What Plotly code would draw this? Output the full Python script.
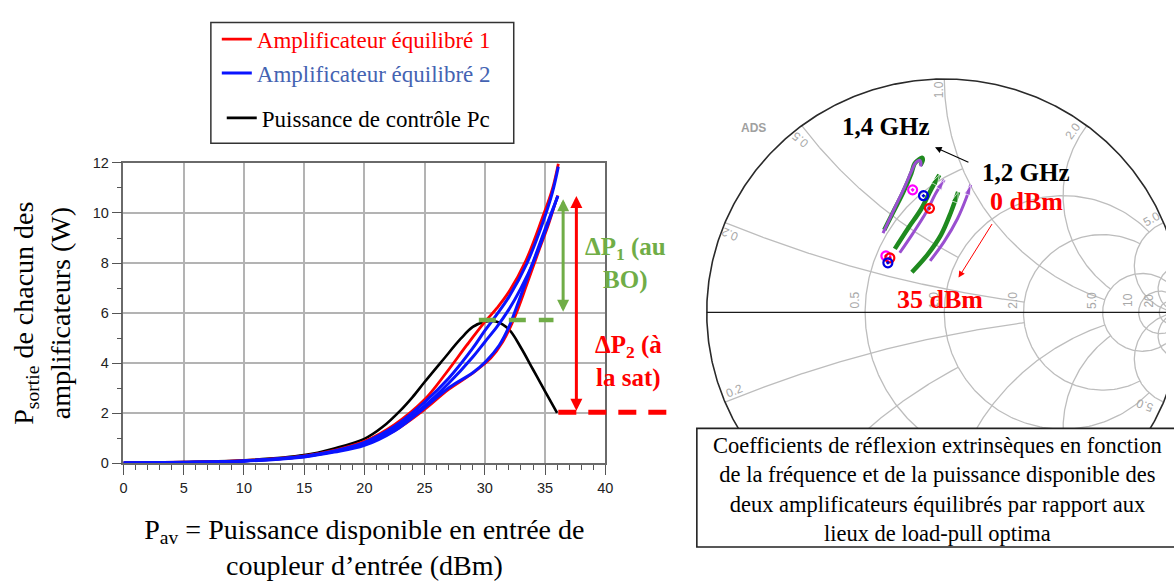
import numpy as np
import plotly.graph_objects as go

FIG_W, FIG_H = 1174, 581
SERIF = "Liberation Serif, Times New Roman, serif"
SANS = "Liberation Sans, Arial, sans-serif"

# ---------------- left panel: output power of each balanced amplifier ----------------
X_MIN, X_MAX = 0, 40
Y_MIN, Y_MAX = 0, 12

pav_pc = [0, 5, 10, 15, 17.5, 20, 21.5, 23, 24, 25, 26.5, 28, 29, 30, 31, 32, 33, 34, 35, 36]
pc_w = [0.02, 0.05, 0.12, 0.33, 0.6, 0.98, 1.45, 2.12, 2.65, 3.25, 4.12, 4.98, 5.45, 5.66, 5.66,
        5.35, 4.62, 3.75, 2.88, 2.02]

pav_amp1_a = [0, 5, 10, 15, 17.5, 20, 22.5, 25, 26.8, 28.5, 30, 31, 32, 33.4, 34.75, 35.6, 36.1]
pout_amp1_a = [0.02, 0.05, 0.11, 0.3, 0.52, 0.88, 1.55, 2.55, 3.62, 4.72, 5.65, 6.2, 6.85, 8.09,
               9.77, 10.94, 11.97]
pav_amp1_b = [0, 5, 10, 15, 17.5, 20, 22.5, 25, 27, 29, 30.5, 31.5, 32.5, 33.5, 34.5, 35.3, 36.05]
pout_amp1_b = [0.02, 0.04, 0.1, 0.27, 0.47, 0.75, 1.3, 2.15, 2.95, 3.6, 4.2, 4.85, 5.85, 7.15,
               8.5, 9.55, 10.7]

pav_amp2_a = [0, 5, 10, 15, 17.5, 20, 22.5, 25, 27, 29, 30, 31, 32, 33.5, 34.8, 35.6, 36.1]
pout_amp2_a = [0.02, 0.05, 0.1, 0.29, 0.5, 0.84, 1.48, 2.45, 3.4, 4.6, 5.3, 5.95, 6.65, 8.0,
               9.6, 10.8, 11.85]
pav_amp2_b = [0, 5, 10, 15, 17.5, 20, 22.5, 25, 27, 29, 30, 31, 32, 33, 34, 35, 36.05]
pout_amp2_b = [0.02, 0.04, 0.1, 0.28, 0.48, 0.8, 1.4, 2.3, 3.2, 4.25, 4.85, 5.45, 6.15, 7.0,
               8.0, 9.25, 10.68]
pav_amp2_c = [0, 5, 10, 15, 17.5, 20, 22.5, 24.3, 27.1, 29, 30.1, 31.2, 32, 32.8, 33.9, 35, 36.07]
pout_amp2_c = [0.02, 0.04, 0.09, 0.26, 0.45, 0.72, 1.3, 1.95, 3.05, 3.62, 4.08, 4.72, 5.45, 6.45,
               7.9, 9.35, 10.68]

# power-spread markers
dp1_pav, dp1_low, dp1_high = 36.5, 6.0, 10.55
dp2_pav, dp2_low, dp2_high = 37.6, 2.04, 10.68
bo_level, bo_from, bo_to = 5.73, 29.5, 35.7
sat_level, sat_from, sat_to = 2.04, 36.1, 45.9

# ---------------- right panel: Smith chart ----------------
smith_r_values = [0.5, 1.0, 2.0, 5.0, 10.0, 20.0]
smith_r_xlimit = [1.0, 5.0, 5.0, None, None, None]
smith_x_values = [0.2, 0.5, 1.0, 2.0, 5.0, 10.0, 20.0]
smith_x_rlimit = [2.0, 1.0, 5.0, 5.0, None, None, None]

# extrinsic reflection coefficients (Re, Im) for three frequencies
green1_re = [-0.2529, -0.2154, -0.1738, -0.1388, -0.125, -0.1113, -0.0946, -0.0904, -0.1]
green1_im = [0.3529, 0.4292, 0.5125, 0.5958, 0.6375, 0.6513, 0.6625, 0.6542, 0.6304]
purple1_re = [-0.258, -0.210, -0.168, -0.136, -0.120, -0.104, -0.098, -0.100]
purple1_im = [0.340, 0.445, 0.535, 0.610, 0.642, 0.652, 0.640, 0.625]
green2_re = [-0.2083, -0.1529, -0.0971, -0.0554, -0.0208]
green2_im = [0.2721, 0.3596, 0.4429, 0.5263, 0.5888]
purple2_re = [-0.1875, -0.1321, -0.0763, -0.0346, 0.0]
purple2_im = [0.2554, 0.3388, 0.4292, 0.5125, 0.5679]
green3_re = [-0.1363, -0.0696, -0.0138, 0.0279, 0.0583]
green3_im = [0.1721, 0.2488, 0.3321, 0.4292, 0.5154]
purple3_re = [-0.0596, 0.0, 0.0554, 0.0904, 0.1113]
purple3_im = [0.2208, 0.3042, 0.4013, 0.4846, 0.5471]

# optimum load-pull points
opt_magenta_re, opt_magenta_im = [-0.1333, -0.2458], [0.525, 0.2417]
opt_blue_re, opt_blue_im = [-0.0875, -0.2375], [0.50, 0.2125]
opt_red_re, opt_red_im = [-0.0625, -0.2292], [0.4458, 0.2333]

G_RE_MIN, G_RE_MAX = -1.04167, 0.93333
G_IM_MIN, G_IM_MAX = -1.11667, 1.30417

BLUE = "#0a14ff"
RED = "#ff0000"
GREEN_TXT = "#70ad47"
GREEN = "#1f8a1f"
PURPLE = "#9a4fd0"
GRID = "#bdbdbd"

fig = go.Figure()

# --- left panel curves ---
fig.add_trace(go.Scatter(x=pav_pc, y=pc_w, mode="lines", line=dict(color="black", width=2.6, shape="spline"),
                         name="Puissance de contrôle Pc", legend="legend3"))
fig.add_trace(go.Scatter(x=pav_amp1_b, y=pout_amp1_b, mode="lines", line=dict(color=RED, width=2.5, shape="spline"),
                         showlegend=False))
fig.add_trace(go.Scatter(x=pav_amp1_a, y=pout_amp1_a, mode="lines", line=dict(color=RED, width=2.8, shape="spline"),
                         name="Amplificateur équilibré 1", legend="legend"))
for px_, py_ in [(pav_amp2_c, pout_amp2_c), (pav_amp2_b, pout_amp2_b)]:
    fig.add_trace(go.Scatter(x=px_, y=py_, mode="lines", line=dict(color=BLUE, width=3, shape="spline"),
                             showlegend=False))
fig.add_trace(go.Scatter(x=pav_amp2_a, y=pout_amp2_a, mode="lines", line=dict(color=BLUE, width=3, shape="spline"),
                         name="Amplificateur équilibré 2", legend="legend2"))


# --- Smith chart grid ---
def gamma_of(z):
    return (z - 1.0) / (z + 1.0)


grid_re, grid_im = [], []


def add_path(g):
    grid_re.extend(g.real.tolist())
    grid_re.append(None)
    grid_im.extend(g.imag.tolist())
    grid_im.append(None)


for r, xlim in zip(smith_r_values, smith_r_xlimit):
    if xlim is None:
        phi = np.linspace(0, 2 * np.pi, 361)
        add_path(r / (1 + r) + np.exp(1j * phi) / (1 + r))
    else:
        a = np.linspace(-np.arctan(xlim), np.arctan(xlim), 300)
        add_path(gamma_of(r + 1j * np.tan(a)))
for xv, rlim in zip(smith_x_values, smith_x_rlimit):
    bmax = np.arctan(rlim) if rlim is not None else np.pi / 2 - 1e-4
    b = np.linspace(0, bmax, 300)
    for s in (1, -1):
        add_path(gamma_of(np.tan(b) + 1j * s * xv))

fig.add_trace(go.Scatter(x=grid_re, y=grid_im, xaxis="x2", yaxis="y2", mode="lines",
                         line=dict(color=GRID, width=1.3), showlegend=False, hoverinfo="skip"))
phi = np.linspace(0, 2 * np.pi, 721)
fig.add_trace(go.Scatter(x=np.cos(phi), y=np.sin(phi), xaxis="x2", yaxis="y2", mode="lines",
                         line=dict(color="#2a2a2a", width=1.6), showlegend=False, hoverinfo="skip"))
fig.add_trace(go.Scatter(x=[-1, 1], y=[0, 0], xaxis="x2", yaxis="y2", mode="lines",
                         line=dict(color="#1a1a1a", width=1.3), showlegend=False, hoverinfo="skip"))


# --- reflection coefficient trajectories ---
def traj(re, im, color, width, arrow):
    n = len(re)
    sizes = [0] * (n - 1) + [11 if arrow else 0]
    fig.add_trace(go.Scatter(x=re, y=im, xaxis="x2", yaxis="y2", mode="lines+markers",
                             line=dict(color=color, width=width, shape="spline"),
                             marker=dict(symbol="arrow", size=sizes, color=color, angleref="previous"),
                             showlegend=False))


traj(green1_re, green1_im, GREEN, 4.5, False)
traj(purple1_re, purple1_im, PURPLE, 3, False)
traj(green2_re, green2_im, GREEN, 4.5, True)
traj(purple2_re, purple2_im, PURPLE, 3, True)
traj(green3_re, green3_im, GREEN, 4.5, True)
traj(purple3_re, purple3_im, PURPLE, 3, True)

for re, im, col in [(opt_magenta_re, opt_magenta_im, "#ff00ff"), (opt_red_re, opt_red_im, "#ff0000"),
                    (opt_blue_re, opt_blue_im, "#0000e0")]:
    fig.add_trace(go.Scatter(x=re, y=im, xaxis="x2", yaxis="y2", mode="markers",
                             marker=dict(symbol="circle-open-dot", size=9, color=col, line=dict(width=2.2)),
                             showlegend=False))

# ---------------- annotations ----------------
ann = []
# double arrows for the power spread
for xv, lo, hi, col in [(dp1_pav, dp1_low, dp1_high, GREEN_TXT), (dp2_pav, dp2_low, dp2_high, RED)]:
    ann.append(dict(x=xv, y=hi, ax=xv, ay=lo, xref="x", yref="y", axref="x", ayref="y", text="",
                    showarrow=True, arrowhead=2, startarrowhead=2, arrowside="end+start",
                    arrowsize=0.8, startarrowsize=0.8, arrowwidth=3, arrowcolor=col))

ann.append(dict(xref="paper", yref="paper", x=628 / FIG_W, y=1 - 263 / FIG_H, showarrow=False,
                xanchor="center", yanchor="middle",
                text="<b>ΔP<sub>1</sub> (au<br>BO)</b>", font=dict(family=SERIF, size=25, color=GREEN_TXT)))
ann.append(dict(xref="paper", yref="paper", x=631 / FIG_W, y=1 - 364 / FIG_H, showarrow=False,
                xanchor="center", yanchor="middle",
                text="<b>ΔP<sub>2</sub> (à<br>la sat)</b>", font=dict(family=SERIF, size=25, color=RED)))

# Smith chart grid labels
lab_font = dict(family=SANS, size=12, color="#a8a8a8")
for r in smith_r_values:
    txt = f"{r:.1f}" if r < 10 else f"{int(r)}"
    ann.append(dict(x=(r - 1) / (r + 1), y=0, xref="x2", yref="y2", text=txt, showarrow=False,
                    xanchor="center", yanchor="middle",
                    textangle=-90, xshift=-10, yshift=12, font=lab_font))

x_labels = [  # value, label text, angle, xshift, yshift
    (0.2, "0.2", -157, 5, -12), (0.5, "0.5", -140, -2, -14), (1.0, "1.0", -90, -5, -11),
    (2.0, "2.0", -55, -14, -5), (5.0, "5.0", -30, -12, 4), (10.0, "10", -15, -18, 5),
    (20.0, "20", -8, -17, 7), (-0.2, "0.2", -22, 9, 11), (-5.0, "5.0", -160, -19, -3),
    (-10.0, "10", -170, -18, -6), (-20.0, "20", -175, -17, -6),
]
for xv, txt, ang, dx, dy in x_labels:
    g = gamma_of(1j * xv)
    ann.append(dict(x=g.real, y=g.imag, xref="x2", yref="y2", text=txt, showarrow=False,
                    xanchor="center", yanchor="middle",
                    textangle=ang, xshift=dx, yshift=dy, font=lab_font))

ann.append(dict(x=-0.804, y=0.792, xref="x2", yref="y2", text="<b>ADS</b>", showarrow=False,
                xanchor="center", yanchor="middle",
                font=dict(family=SANS, size=12, color="#a0a0a0")))

bold_black = dict(family=SERIF, size=25, color="black")
bold_red = dict(family=SERIF, size=26, color=RED)
for gx, gy, txt, fnt in [(-0.247, 0.797, "<b>1,4 GHz</b>", bold_black),
                         (0.346, 0.600, "<b>1,2 GHz</b>", bold_black),
                         (0.346, 0.474, "<b>0 dBm</b>", bold_red),
                         (-0.0167, 0.054, "<b>35 dBm</b>", bold_red)]:
    ann.append(dict(x=gx, y=gy, xref="x2", yref="y2", text=txt, showarrow=False,
                    xanchor="center", yanchor="middle", font=fnt))
ann.append(dict(x=-0.039, y=0.707, ax=0.108, ay=0.640, xref="x2", yref="y2", axref="x2", ayref="y2", text="",
                showarrow=True, arrowhead=2, arrowsize=1.2, arrowwidth=1.1, arrowcolor="black"))
ann.append(dict(x=0.060, y=0.149, ax=0.205, ay=0.385, xref="x2", yref="y2", axref="x2", ayref="y2", text="",
                showarrow=True, arrowhead=2, arrowsize=1.3, arrowwidth=1, arrowcolor=RED))

ann.append(dict(xref="paper", yref="paper", x=943 / FIG_W, y=1 - 495 / FIG_H, showarrow=False,
                xanchor="center", yanchor="middle",
                text="Coefficients de réflexion extrinsèques en fonction<br>de la fréquence et de la puissance "
                     "disponible des<br>deux amplificateurs équilibrés par rapport aux<br>lieux de load-pull optima",
                font=dict(family=SERIF, size=22.5, color="black")))

# ---------------- shapes ----------------
shapes = [
    dict(type="rect", xref="paper", yref="paper", x0=209 / FIG_W, x1=515 / FIG_W, y0=1 - 139 / FIG_H,
         y1=1 - 15 / FIG_H, line=dict(color="#333333", width=1.5)),
    dict(type="line", xref="x", yref="y", x0=bo_from, x1=bo_to, y0=bo_level, y1=bo_level,
         line=dict(color=GREEN_TXT, width=4.5, dash="17px,13px")),
    dict(type="line", xref="x domain", yref="y",
         x0=(sat_from - X_MIN) / (X_MAX - X_MIN), x1=(sat_to - X_MIN) / (X_MAX - X_MIN),
         y0=sat_level, y1=sat_level, line=dict(color=RED, width=5, dash="18px,12px")),
    dict(type="rect", xref="paper", yref="paper", x0=700 / FIG_W, x1=1.02, y0=1 - 554.3 / FIG_H,
         y1=1 - 432.3 / FIG_H, line=dict(color="#222222", width=1.6), fillcolor="white", layer="above"),
]

axis_common = dict(showgrid=True, gridcolor="#b3b3b3", gridwidth=1.5, showline=True, linecolor="#6a6a6a",
                   linewidth=1.5, mirror=True, zeroline=False, ticks="outside", ticklen=10, tickwidth=1.3,
                   tickcolor="#555555", tickfont=dict(family=SANS, size=14.5, color="#222222"))

legend_common = dict(xanchor="left", yanchor="middle", bgcolor="rgba(0,0,0,0)", borderwidth=0)

fig.update_layout(
    width=FIG_W, height=FIG_H, margin=dict(l=0, r=0, t=0, b=0),
    paper_bgcolor="white", plot_bgcolor="white",
    font=dict(family=SERIF, color="black"),
    xaxis=dict(domain=[120.7 / FIG_W, 607.5 / FIG_W], range=[X_MIN, X_MAX], dtick=5, tick0=0,
               minor=dict(dtick=1, ticks="outside", ticklen=5, tickwidth=1, tickcolor="#555555", showgrid=False),
               title=dict(text="P<sub>av</sub> = Puissance disponible en entrée de<br>coupleur d’entrée (dBm)",
                          font=dict(family=SERIF, size=28, color="black"), standoff=26),
               **axis_common),
    yaxis=dict(domain=[1 - 468.3 / FIG_H, 1 - 159.3 / FIG_H], range=[Y_MIN, Y_MAX], dtick=2, tick0=0,
               minor=dict(dtick=1, ticks="outside", ticklen=5, tickwidth=1, tickcolor="#555555", showgrid=False),
               title=dict(text="P<sub>sortie</sub> de chacun des<br>amplificateurs (W)",
                          font=dict(family=SERIF, size=28, color="black"), standoff=14),
               **axis_common),
    xaxis2=dict(domain=[700 / FIG_W, 1], range=[G_RE_MIN, G_RE_MAX], visible=False, anchor="y2"),
    yaxis2=dict(domain=[0, 1], range=[G_IM_MIN, G_IM_MAX], visible=False, anchor="x2"),
    legend=dict(x=215 / FIG_W, y=1 - 32 / FIG_H, font=dict(family=SERIF, size=23, color=RED),
                **legend_common),
    legend2=dict(x=215 / FIG_W, y=1 - 67 / FIG_H, font=dict(family=SERIF, size=23, color="#4463b2"),
                 **legend_common),
    legend3=dict(x=220 / FIG_W, y=1 - 113 / FIG_H, font=dict(family=SERIF, size=23, color="black"),
                 **legend_common),
    annotations=ann, shapes=shapes,
)

fig.write_html("out.html")
